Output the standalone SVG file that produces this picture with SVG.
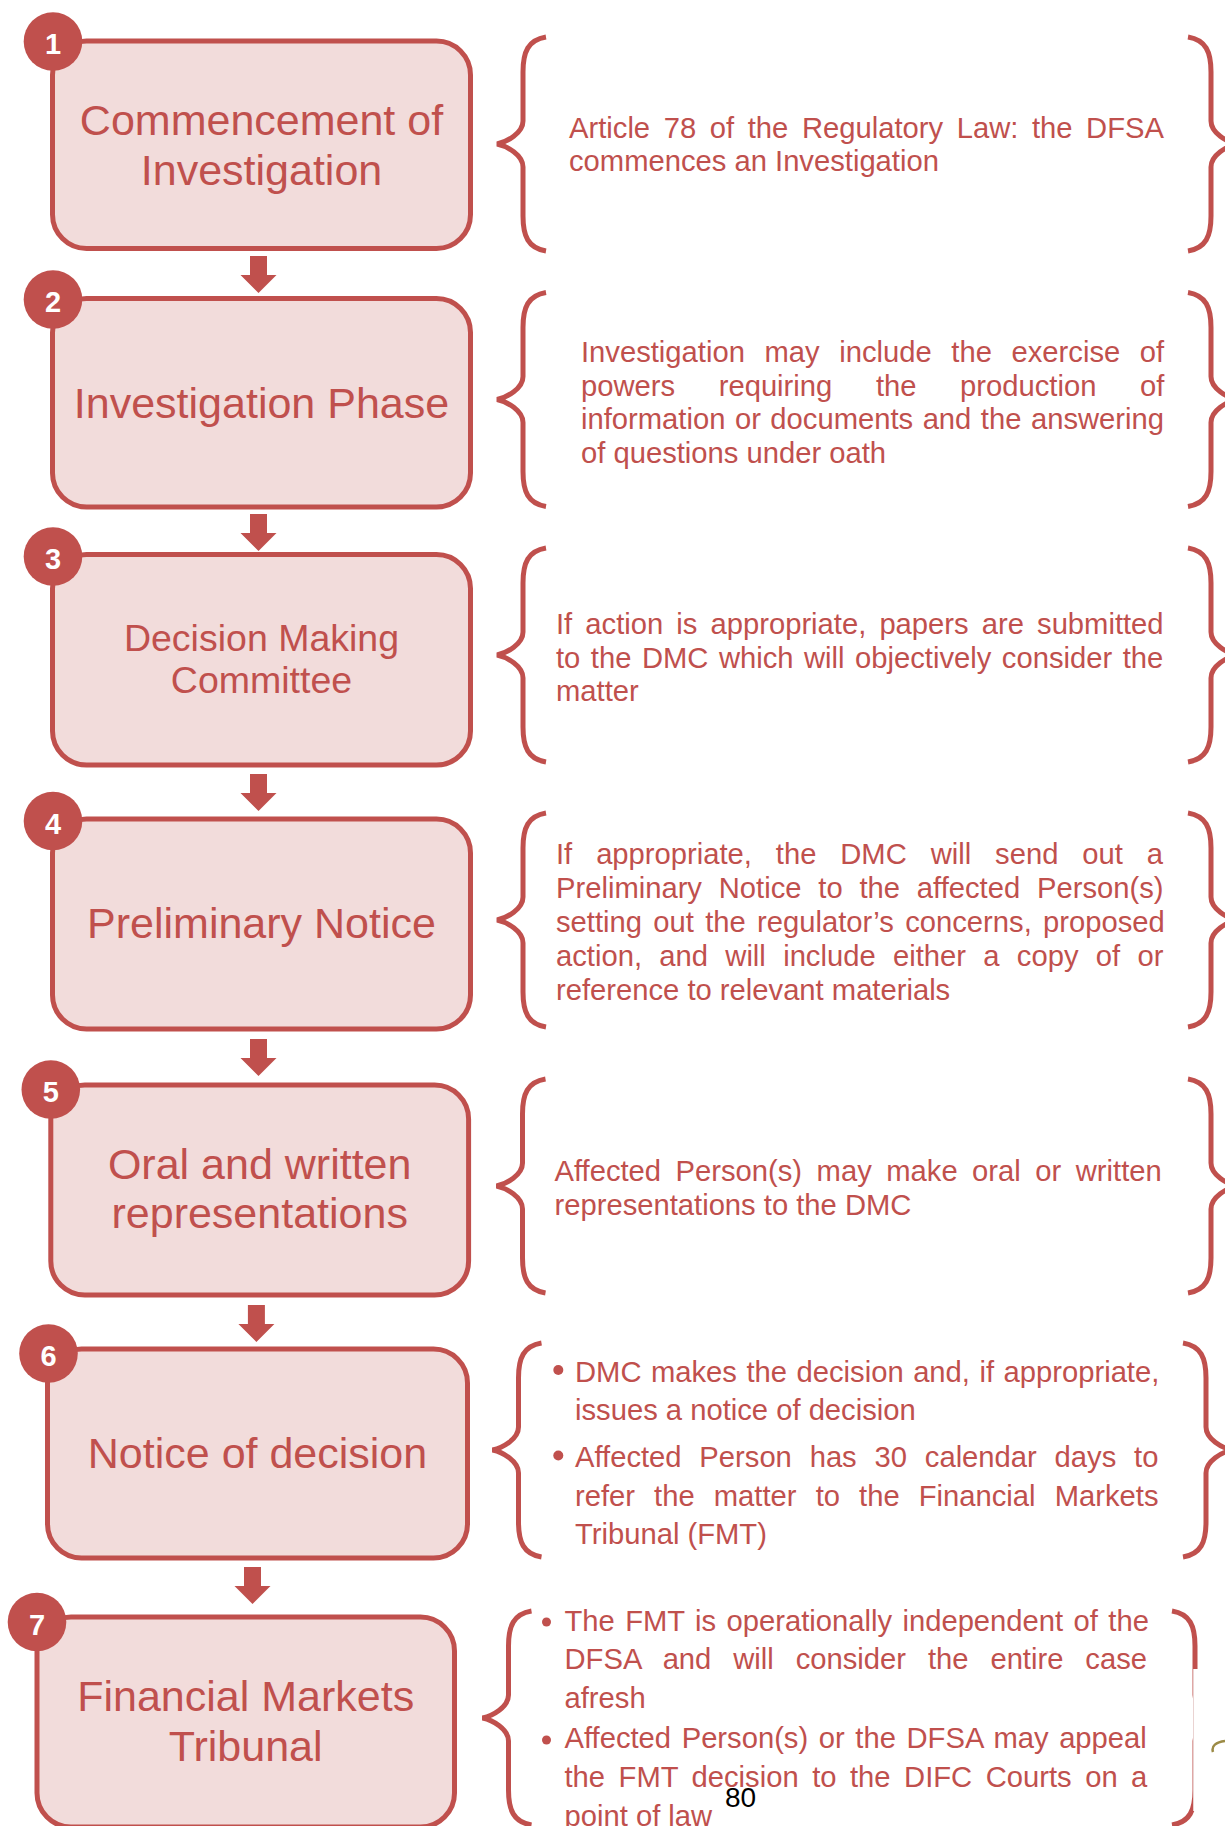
<svg xmlns="http://www.w3.org/2000/svg" xmlns:xlink="http://www.w3.org/1999/xlink" width="1225" height="1826" viewBox="0 0 1225 1826">
<style>
.box{fill:#F2DCDB;stroke:#C0504D;stroke-width:5}
.num{fill:#C0504D}
.numt{fill:#FFFFFF;font-family:"Liberation Sans",Arial,sans-serif;font-weight:bold;font-size:29px;text-anchor:middle}
.bt{fill:#C0504D;font-family:"Liberation Sans",Arial,sans-serif;font-size:43px;text-anchor:middle}
.bt36{fill:#C0504D;font-family:"Liberation Sans",Arial,sans-serif;font-size:37.5px;text-anchor:middle}
.br{fill:none;stroke:#C0504D;stroke-width:5;stroke-linecap:butt}
.arr{fill:#C0504D}
.pt{fill:#C0504D;font-family:"Liberation Sans",Arial,sans-serif;font-size:29.2px}
.dot{fill:#C0504D}
</style>
<defs>
<path id="brace" d="M49,-107 C31,-104 26,-92 26,-72 L26,-23 C26,-11 10,-2 0,0 C10,2 26,11 26,23 L26,72 C26,92 31,104 49,107"/>
<path id="arrow" d="M-8.5,-37 H8.5 V-18 H18 L0,0 L-18,-18 H-8.5 Z"/>
</defs>
<rect x="0" y="0" width="1225" height="1826" fill="#FFFFFF"/>

<g id="connectors">
<use xlink:href="#arrow" class="arr" transform="translate(258.5,293)"/>
<use xlink:href="#arrow" class="arr" transform="translate(258.5,551)"/>
<use xlink:href="#arrow" class="arr" transform="translate(258.5,811)"/>
<use xlink:href="#arrow" class="arr" transform="translate(258.5,1076)"/>
<use xlink:href="#arrow" class="arr" transform="translate(256.4,1342)"/>
<use xlink:href="#arrow" class="arr" transform="translate(252.5,1604)"/>
</g>

<g id="node1">
<rect class="box" x="52.5" y="41" width="418" height="207.5" rx="34"/>
<circle class="num" cx="53" cy="41.5" r="29.3"/>
<text class="numt" x="53" y="54">1</text>
<text class="bt" x="261.5" y="134.5">Commencement of</text>
<text class="bt" x="261.5" y="184.5">Investigation</text>
</g>
<g id="node2">
<rect class="box" x="52.5" y="298.6" width="418" height="208.4" rx="34"/>
<circle class="num" cx="53" cy="299.5" r="29.3"/>
<text class="numt" x="53" y="312">2</text>
<text class="bt" x="261.5" y="418">Investigation Phase</text>
</g>
<g id="node3">
<rect class="box" x="52.5" y="554.5" width="418" height="210.5" rx="34"/>
<circle class="num" cx="53" cy="556.5" r="29.3"/>
<text class="numt" x="53" y="569">3</text>
<text class="bt36" x="261.5" y="650.5">Decision Making</text>
<text class="bt36" x="261.5" y="692.5">Committee</text>
</g>
<g id="node4">
<rect class="box" x="52.5" y="819" width="418" height="210" rx="34"/>
<circle class="num" cx="53" cy="821" r="29.3"/>
<text class="numt" x="53" y="833.5">4</text>
<text class="bt" x="261.5" y="938.4">Preliminary Notice</text>
</g>
<g id="node5">
<rect class="box" x="50.8" y="1085" width="417.8" height="210" rx="34"/>
<circle class="num" cx="50.8" cy="1089.5" r="29.3"/>
<text class="numt" x="50.8" y="1102">5</text>
<text class="bt" x="259.7" y="1179">Oral and written</text>
<text class="bt" x="259.7" y="1228">representations</text>
</g>
<g id="node6">
<rect class="box" x="47.5" y="1349" width="420" height="209" rx="34"/>
<circle class="num" cx="48.5" cy="1353.5" r="29.3"/>
<text class="numt" x="48.5" y="1366">6</text>
<text class="bt" x="257.5" y="1468">Notice of decision</text>
</g>
<g id="node7">
<rect class="box" x="37" y="1617" width="417.5" height="210" rx="34"/>
<circle class="num" cx="37" cy="1622" r="29.3"/>
<text class="numt" x="37" y="1634.5">7</text>
<text class="bt" x="245.7" y="1711">Financial Markets</text>
<text class="bt" x="245.7" y="1761">Tribunal</text>
</g>

<g id="detail1">
<use xlink:href="#brace" class="br" transform="translate(497,144)"/>
<use xlink:href="#brace" class="br" transform="translate(1237,144) scale(-1,1)"/>
<text class="pt" x="569" y="138" word-spacing="5.5">Article 78 of the Regulatory Law: the DFSA</text>
<text class="pt" x="569" y="171">commences an Investigation</text>
</g>
<g id="detail2">
<use xlink:href="#brace" class="br" transform="translate(497,399.5)"/>
<use xlink:href="#brace" class="br" transform="translate(1237,399.5) scale(-1,1)"/>
<text class="pt" x="581" y="362" word-spacing="11.5">Investigation may include the exercise of</text>
<text class="pt" x="581" y="395.5" word-spacing="35.5">powers requiring the production of</text>
<text class="pt" x="581" y="429" word-spacing="1.4">information or documents and the answering</text>
<text class="pt" x="581" y="462.5">of questions under oath</text>
</g>
<g id="detail3">
<use xlink:href="#brace" class="br" transform="translate(497,655)"/>
<use xlink:href="#brace" class="br" transform="translate(1237,655) scale(-1,1)"/>
<text class="pt" x="556" y="634" word-spacing="5.0">If action is appropriate, papers are submitted</text>
<text class="pt" x="556" y="667.5" word-spacing="2.4">to the DMC which will objectively consider the</text>
<text class="pt" x="556" y="701">matter</text>
</g>
<g id="detail4">
<use xlink:href="#brace" class="br" transform="translate(497,920)"/>
<use xlink:href="#brace" class="br" transform="translate(1237,920) scale(-1,1)"/>
<text class="pt" x="556" y="864" word-spacing="15.8">If appropriate, the DMC will send out a</text>
<text class="pt" x="556" y="898" word-spacing="8.7">Preliminary Notice to the affected Person(s)</text>
<text class="pt" x="556" y="932" word-spacing="3.2">setting out the regulator’s concerns, proposed</text>
<text class="pt" x="556" y="966" word-spacing="9.2">action, and will include either a copy of or</text>
<text class="pt" x="556" y="1000">reference to relevant materials</text>
</g>
<g id="detail5">
<use xlink:href="#brace" class="br" transform="translate(496.5,1186)"/>
<use xlink:href="#brace" class="br" transform="translate(1237,1186) scale(-1,1)"/>
<text class="pt" x="554.5" y="1181" word-spacing="6.4">Affected Person(s) may make oral or written</text>
<text class="pt" x="554.5" y="1215">representations to the DMC</text>
</g>
<g id="detail6">
<use xlink:href="#brace" class="br" transform="translate(492.5,1450)"/>
<use xlink:href="#brace" class="br" transform="translate(1232,1450) scale(-1,1)"/>
<circle class="dot" cx="558.3" cy="1370" r="5"/>
<circle class="dot" cx="558.3" cy="1455.5" r="5"/>
<text class="pt" x="575" y="1381.5" word-spacing="1.4">DMC makes the decision and, if appropriate,</text>
<text class="pt" x="575" y="1420">issues a notice of decision</text>
<text class="pt" x="575" y="1467" word-spacing="9.7">Affected Person has 30 calendar days to</text>
<text class="pt" x="575" y="1505.7" word-spacing="11.0">refer the matter to the Financial Markets</text>
<text class="pt" x="575" y="1544">Tribunal (FMT)</text>
</g>
<g id="detail7">
<use xlink:href="#brace" class="br" transform="translate(482.5,1718)"/>
<use xlink:href="#brace" class="br" transform="translate(1221,1718) scale(-1,1)"/>
<rect x="1193.5" y="1669" width="40" height="142" fill="#FFFFFF"/>
<line x1="1193.5" y1="1669" x2="1193.5" y2="1811" stroke="#EAD3D2" stroke-width="1"/>
<path d="M1225,1741 C1216,1742 1211,1746 1213,1752" fill="none" stroke="#9C8B46" stroke-width="2.5"/>
<circle class="dot" cx="546.5" cy="1622" r="4.5"/>
<circle class="dot" cx="546.5" cy="1740" r="4.5"/>
<text class="pt" x="564.5" y="1630.5" word-spacing="2.3">The FMT is operationally independent of the</text>
<text class="pt" x="564.5" y="1669" word-spacing="13.8">DFSA and will consider the entire case</text>
<text class="pt" x="564.5" y="1707.6">afresh</text>
<text class="pt" x="564.5" y="1748" word-spacing="2.5">Affected Person(s) or the DFSA may appeal</text>
<text class="pt" x="564.5" y="1786.5" word-spacing="5.4">the FMT decision to the DIFC Courts on a</text>
<text class="pt" x="564.5" y="1826">point of law</text>
</g>

<text x="725" y="1807" font-family="'Liberation Sans',Arial,sans-serif" font-size="28" fill="#000000">80</text>
</svg>
